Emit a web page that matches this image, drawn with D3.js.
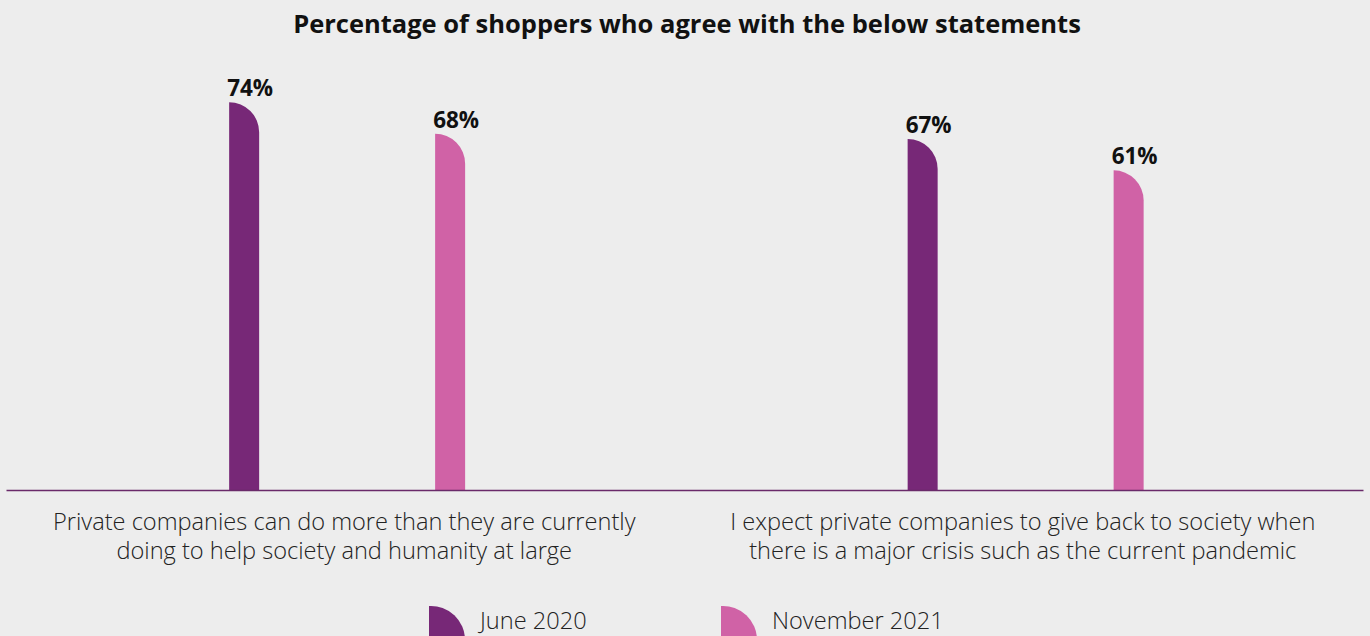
<!DOCTYPE html>
<html><head><meta charset="utf-8">
<script src="https://cdn.jsdelivr.net/npm/d3@7"></script>
<style>
html,body{margin:0;padding:0;background:#ededed;}
svg{display:block;}
</style></head><body>
<svg id="chart" width="1370" height="636"></svg>
<script>
const title = "Percentage of shoppers who agree with the below statements";
const categories = [
  ["Private companies can do more than they are currently", "doing to help society and humanity at large"],
  ["I expect private companies to give back to society when", "there is a major crisis such as the current pandemic"]
];
const seriesNames = ["June 2020", "November 2021"];
const june2020 = [74, 67];
const november2021 = [68, 61];
const colors = ["#772877", "#d062a6"];

const svg = d3.select("#chart");
const W = 1370, H = 636;
const baseY = 490;
const font = "'Open Sans', 'Noto Sans', sans-serif";

const x0 = d3.scaleBand().domain(d3.range(categories.length)).range([6, 1363]).padding(0);
const x1 = d3.scalePoint().domain(seriesNames).range([0, x0.bandwidth()]).padding(1.147).align(0.504);
const y = d3.scaleLinear().domain([0, 100]).range([baseY, baseY - 524]);
const barW = 30;

svg.append("rect").attr("width", W).attr("height", H).attr("fill", "#ededed");

svg.append("text").attr("x", 687).attr("y", 33).attr("text-anchor", "middle")
  .attr("font-family", font).attr("font-weight", 700).attr("font-size", 25.5)
  .attr("fill", "#111").text(title);

function barPath(x, top, bottom, w) {
  const r = Math.min(w, bottom - top);
  return `M${x},${bottom}V${top}A${r},${r} 0 0 1 ${x + w},${top + r}V${bottom}Z`;
}

const seriesData = [june2020, november2021];
const data = [];
categories.forEach((c, i) => {
  seriesNames.forEach((s, j) => data.push({cat: i, series: s, j, value: seriesData[j][i]}));
});

const g = svg.append("g");
g.selectAll("path.bar").data(data).join("path").attr("class", "bar")
  .attr("d", d => {
    const cx = x0(d.cat) + x1(d.series);
    return barPath(cx - barW / 2, y(d.value), baseY, barW);
  })
  .attr("fill", d => colors[d.j]);

g.selectAll("text.val").data(data).join("text").attr("class", "val")
  .attr("x", d => x0(d.cat) + x1(d.series) + 6)
  .attr("y", d => y(d.value) - 6)
  .attr("text-anchor", "middle")
  .attr("font-family", font).attr("font-weight", 700).attr("font-size", 22.5)
  .attr("fill", "#111").text(d => d.value + "%");

// axis baseline
const axis = d3.axisBottom(x0).tickSize(0).tickFormat("");
const ax = svg.append("g").attr("transform", `translate(0,${baseY})`).call(axis);
ax.select(".domain").attr("stroke", "#6a2a6a").attr("stroke-width", 1.5);

// category labels
categories.forEach((lines, i) => {
  const t = svg.append("text").attr("text-anchor", "middle")
    .attr("font-family", font).attr("font-weight", 300).attr("font-size", 23.6)
    .attr("fill", "#222");
  lines.forEach((ln, k) => {
    t.append("tspan").attr("x", x0(i) + x0.bandwidth() / 2 - 1).attr("y", 530 + k * 29).text(ln);
  });
});

// legend
const legX = [429, 721];
seriesNames.forEach((s, j) => {
  svg.append("path").attr("d", barPath(legX[j], 606, 640, 36)).attr("fill", colors[j]);
  svg.append("text").attr("x", legX[j] + 51).attr("y", 629)
    .attr("font-family", font).attr("font-weight", 300).attr("font-size", 23.6)
    .attr("fill", "#222").text(s);
});
</script>
</body></html>
